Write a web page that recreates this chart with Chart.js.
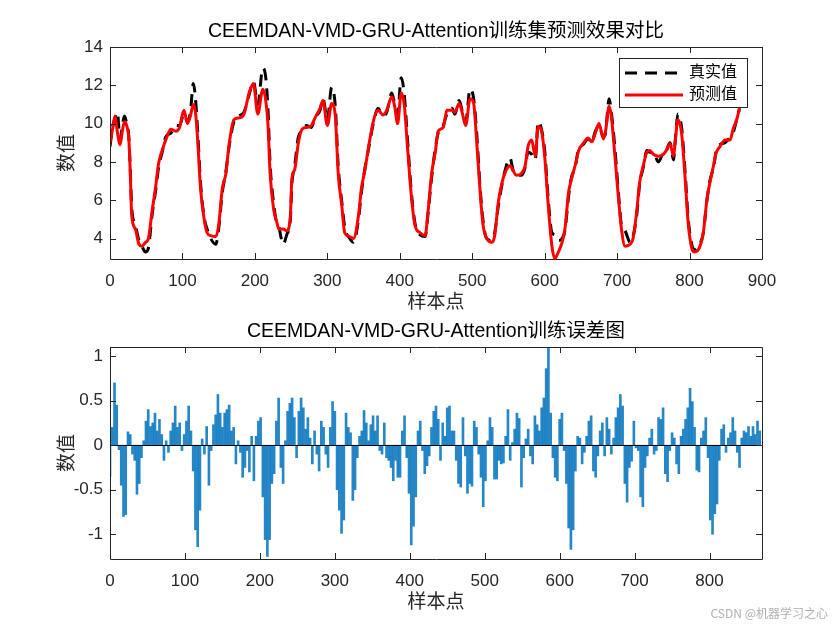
<!DOCTYPE html>
<html>
<head>
<meta charset="utf-8">
<script src="https://cdn.jsdelivr.net/npm/chart.js@4.4.1/dist/chart.umd.min.js"></script>
<style>
  body { margin: 0; background: #fff; }
  #wrap { position: relative; width: 840px; height: 630px; background: #fff; overflow: hidden; }
  canvas { position: absolute; left: 0; }
  #fitChart { top: 0; }
  #errChart { top: 300px; }
  #mark { position: absolute; right: 12px; top: 604px; font: 12px "Noto Sans CJK SC", sans-serif; color: #b0b0b0; }
</style>
</head>
<body>
<div id="wrap">
  <canvas id="fitChart" width="840" height="330"></canvas>
  <canvas id="errChart" width="840" height="330"></canvas>
  <div id="mark">CSDN @机器学习之心</div>
</div>
<script>
const FONT = '"Liberation Sans", Arial, "Noto Sans CJK SC", sans-serif';

// sample positions
const sampleX = [
  0, 4, 7, 10, 14, 17, 20, 23, 26, 28,
  30, 35, 40, 44, 49, 53, 58, 63, 67, 72,
  77, 84, 91, 96, 102, 107, 111, 115, 118, 121,
  125, 130, 134, 139, 146, 150, 155, 160, 164, 171,
  178, 185, 192, 198, 204, 211, 215, 218, 221, 226,
  230, 233, 239, 244, 249, 251, 255, 260, 265, 271,
  278, 283, 290, 294, 300, 306, 311, 315, 320, 324,
  331, 336, 343, 347, 352, 357, 364, 370, 377, 382,
  389, 393, 397, 402, 406, 411, 416, 421, 428, 435,
  439, 444, 449, 453, 460, 465, 472, 476, 482, 486,
  491, 497, 502, 506, 511, 515, 520, 527, 531, 536,
  541, 545, 552, 557, 561, 568, 573, 577, 582, 587,
  591, 595, 600, 605, 610, 614, 619, 624, 628, 633,
  637, 642, 647, 653, 660, 665, 669, 675, 681, 684,
  689, 692, 697, 702, 706, 711, 718, 722, 727, 731,
  736, 741, 745, 750, 757, 764, 768, 773, 778, 780,
  784, 789, 794, 798, 803, 807, 814, 819, 824, 828,
  833, 837, 842, 849, 856, 860, 865, 869
];

// 真实值 (black dashed)
const trueVals = [
  8.8, 9.9, 10.3, 10.6, 9.2, 9.9, 10.4, 10.0, 9.3, 7.6,
  5.6, 4.7, 3.9, 3.6, 3.3, 3.5, 5.2, 6.5, 7.7, 8.5,
  9.3, 9.5, 9.9, 9.9, 10.5, 10.1, 10.6, 12.1, 11.3, 9.6,
  6.9, 5.1, 4.5, 4.0, 3.7, 4.5, 6.4, 7.5, 8.7, 10.1,
  10.4, 10.6, 11.5, 12.2, 11.0, 12.9, 12.4, 10.8, 7.9, 5.8,
  4.8, 4.6, 3.7, 4.2, 5.0, 6.8, 7.8, 9.3, 9.6, 9.9,
  9.8, 10.3, 10.7, 11.3, 10.2, 11.9, 10.9, 7.8, 5.9, 4.6,
  4.0, 3.8, 5.0, 6.4, 7.7, 8.7, 10.1, 10.8, 10.4, 10.6,
  11.6, 11.0, 10.5, 12.4, 11.6, 9.0, 6.4, 4.8, 4.2, 4.1,
  5.3, 7.2, 8.7, 9.5, 9.9, 10.5, 10.8, 10.5, 11.2, 10.7,
  10.1, 11.8, 11.3, 9.6, 6.6, 4.9, 4.0, 3.9, 4.3, 5.7,
  6.8, 7.5, 8.2, 7.5, 7.3, 7.3, 7.7, 8.5, 8.4, 8.1,
  10.1, 9.8, 8.6, 6.0, 4.3, 4.2, 3.9, 4.0, 4.4, 6.2,
  7.2, 7.7, 8.7, 8.9, 9.2, 9.0, 9.5, 9.9, 9.3, 9.5,
  11.3, 10.6, 8.7, 6.3, 4.7, 4.4, 3.8, 4.1, 5.2, 6.8,
  7.7, 8.6, 8.5, 8.5, 8.0, 8.5, 8.6, 9.0, 8.1, 9.0,
  10.5, 9.8, 7.4, 5.1, 3.7, 3.4, 3.7, 4.3, 6.0, 7.0,
  7.7, 8.6, 8.9, 9.0, 9.3, 9.5, 10.2, 10.8
];

// 预测值 (red)
const predVals = [
  9.0, 9.8, 10.4, 9.6, 8.9, 9.6, 10.1, 9.9, 9.2, 7.4,
  5.2, 4.5, 3.7, 3.6, 3.8, 4.0, 5.4, 6.7, 7.9, 8.6,
  9.15, 9.7, 9.6, 9.8, 10.7, 10.0, 10.4, 11.0, 10.6, 9.15,
  6.6, 5.0, 4.3, 4.15, 4.1, 4.7, 6.6, 7.4, 8.8, 10.2,
  10.3, 10.5, 11.6, 12.1, 10.5, 11.8, 11.2, 10.0, 7.4, 5.5,
  4.9, 4.5, 4.5, 4.4, 5.2, 7.1, 7.6, 9.0, 9.7, 9.8,
  9.9, 10.3, 10.8, 11.2, 9.9, 11.05, 10.4, 7.4, 5.7, 4.3,
  4.1, 4.0, 5.2, 6.6, 7.6, 8.8, 10.2, 10.7, 10.45, 10.7,
  11.4, 10.9, 10.0, 11.6, 11.05, 8.6, 6.2, 4.7, 4.3, 4.15,
  5.4, 7.4, 8.5, 9.6, 9.8, 10.7, 10.7, 10.6, 11.05, 10.6,
  9.9, 11.3, 11.05, 9.15, 6.4, 4.7, 4.0, 3.8, 4.15, 5.9,
  6.9, 7.4, 7.8, 7.5, 7.3, 7.4, 7.8, 8.8, 9.15, 8.3,
  9.85, 9.7, 8.3, 5.7, 3.6, 2.95, 3.3, 3.8, 4.5, 6.4,
  7.1, 7.8, 8.6, 8.95, 9.25, 9.05, 9.4, 10.0, 9.2, 9.6,
  10.9, 10.4, 8.3, 6.05, 4.5, 3.6, 3.7, 4.0, 5.4, 6.9,
  7.8, 8.5, 8.6, 8.4, 8.3, 8.4, 8.6, 8.95, 8.3, 9.0,
  10.2, 9.5, 7.1, 4.85, 3.5, 3.3, 3.55, 4.3, 6.05, 6.9,
  7.8, 8.5, 8.8, 9.15, 9.15, 9.7, 10.2, 10.8
];

// training error, one value every errStep samples
const errStep = 3;
const errVals = [
  -0.35, 0.2, 0.7, 0.45, -0.05, -0.45, -0.8, -0.78, 0.15, 0.12,
  -0.1, -0.17, -0.55, -0.43, -0.14, 0.05, 0.27, 0.4, 0.21, 0.25,
  0.36, 0.16, 0.29, 0.12, -0.17, 0.05, -0.08, 0.16, 0.25, 0.44,
  0.2, 0.25, -0.06, 0.12, 0.27, 0.44, 0.16, -0.29, -0.95, -1.14,
  -0.73, 0.07, -0.1, 0.21, -0.45, -0.06, 0.23, 0.34, 0.57, 0.36,
  0.2, 0.36, 0.4, 0.45, 0.16, 0.2, -0.21, 0.05, -0.08, -0.36,
  -0.25, -0.06, -0.3, 0.1, -0.4, 0.1, 0.27, 0.31, -0.58, -1.06,
  -1.25, -1.06, -0.43, -0.32, 0.27, 0.53, -0.25, -0.43, 0.05, 0.38,
  0.47, 0.53, 0.31, -0.14, 0.38, 0.53, 0.42, 0.18, 0.31, 0.08,
  -0.21, 0.16, -0.1, -0.29, 0.27, 0.2, -0.1, -0.25, 0.2, 0.49,
  0.38, -0.5, -0.73, -0.99, -0.84, 0.36, 0.2, 0.14, -0.62, -0.5,
  -0.14, 0.1, 0.16, 0.39, 0.25, 0.05, 0.23, 0.33, 0.16, 0.33,
  -0.06, -0.1, 0.25, -0.14, -0.17, -0.25, -0.4, -0.17, -0.36, -0.36,
  0.16, 0.33, -0.14, -0.54, -1.12, -0.91, -0.58, 0.16, 0.27, -0.06,
  -0.32, -0.23, -0.12, 0.2, 0.38, 0.44, 0.29, -0.17, 0.25, 0.1,
  0.42, 0.44, 0.16, 0.16, -0.17, -0.43, -0.47, 0.31, -0.12, -0.54,
  -0.43, -0.46, 0.27, 0.2, -0.1, -0.36, -0.69, -0.4, 0.05, 0.31,
  0.2, -0.38, -0.38, -0.17, -0.21, -0.2, 0.1, 0.4, -0.17, 0.03,
  0.18, 0.36, 0.3, -0.47, -0.14, 0.07, 0.18, -0.12, -0.21, 0.33,
  0.23, 0.16, 0.42, 0.53, 0.86, 1.09, 0.36, -0.14, -0.36, -0.4,
  0.29, 0.36, -0.06, -0.43, -0.93, -1.17, -0.95, -0.29, 0.1, 0.08,
  -0.21, -0.08, 0.1, 0.27, 0.33, -0.29, -0.36, -0.12, 0.16, 0.25,
  -0.12, 0.31, 0.18, -0.1, 0.08, 0.31, 0.42, 0.57, 0.44, -0.43,
  -0.64, -0.25, -0.18, 0.27, -0.03, -0.06, -0.58, -0.69, -0.25, -0.12,
  0.08, 0.18, -0.1, -0.06, 0.31, 0.29, 0.42, -0.32, -0.41, -0.06,
  0.14, 0.08, -0.21, -0.32, 0.1, 0.18, 0.29, 0.42, 0.64, 0.49,
  0.2, -0.28, -0.3, 0.08, 0.16, 0.31, -0.14, -0.84, -1.0, -0.77,
  -0.66, -0.17, 0.18, 0.23, -0.08, 0.08, 0.14, 0.31, 0.16, -0.08,
  -0.25, 0.08, 0.16, 0.14, 0.21, 0.1, 0.21, 0.12, 0.27, 0.16
];

const xTicksFit = [0, 100, 200, 300, 400, 500, 600, 700, 800, 900];
const yTicksFit = [4, 6, 8, 10, 12, 14];
const xTicksErr = [0, 100, 200, 300, 400, 500, 600, 700, 800];
const yTicksErr = [-1, -0.5, 0, 0.5, 1];
const seriesNames = ["真实值", "预测值"];

const fixTicks = (values) => (scale) => {
  scale.ticks = values.map((v) => ({ value: v }));
};

// box round the axes with inward ticks on all four sides
const matlabAxes = {
  id: "matlabAxes",
  afterDraw(chart) {
    const { ctx, chartArea: a, scales } = chart;
    const len = 6;
    ctx.save();
    ctx.strokeStyle = "#262626";
    ctx.lineWidth = 1;
    ctx.beginPath();
    ctx.rect(Math.round(a.left) + 0.5, Math.round(a.top) + 0.5,
      Math.round(a.right - a.left), Math.round(a.bottom - a.top));
    scales.x.ticks.forEach((t) => {
      const px = Math.round(scales.x.getPixelForValue(t.value)) + 0.5;
      ctx.moveTo(px, a.bottom); ctx.lineTo(px, a.bottom - len);
      ctx.moveTo(px, a.top); ctx.lineTo(px, a.top + len);
    });
    scales.y.ticks.forEach((t) => {
      const py = Math.round(scales.y.getPixelForValue(t.value)) + 0.5;
      ctx.moveTo(a.left, py); ctx.lineTo(a.left + len, py);
      ctx.moveTo(a.right, py); ctx.lineTo(a.right - len, py);
    });
    ctx.stroke();
    ctx.restore();
  },
};

const fitLegend = {
  id: "fitLegend",
  afterDraw(chart) {
    const { ctx, chartArea: a } = chart;
    const w = 128, h = 49;
    const left = a.right - 15 - w, top = a.top + 11;
    ctx.save();
    ctx.fillStyle = "#fff";
    ctx.fillRect(left, top, w, h);
    ctx.strokeStyle = "#262626";
    ctx.lineWidth = 1;
    ctx.strokeRect(Math.round(left) + 0.5, Math.round(top) + 0.5, w, h);
    chart.data.datasets.forEach((ds, i) => {
      const y = top + 15 + i * 22;
      ctx.beginPath();
      ctx.strokeStyle = ds.borderColor;
      ctx.lineWidth = 3;
      ctx.setLineDash(ds.borderDash || []);
      ctx.moveTo(left + 6, y);
      ctx.lineTo(left + 64, y);
      ctx.stroke();
      ctx.setLineDash([]);
      ctx.fillStyle = "#000";
      ctx.font = "16px " + FONT;
      ctx.textBaseline = "middle";
      ctx.fillText(ds.label, left + 70, y);
    });
    ctx.restore();
  },
};

const zeroLine = {
  id: "zeroLine",
  afterDatasetsDraw(chart) {
    const { ctx, chartArea: a, scales } = chart;
    const py = Math.round(scales.y.getPixelForValue(0)) + 0.5;
    ctx.save();
    ctx.strokeStyle = "#000";
    ctx.lineWidth = 1;
    ctx.beginPath();
    ctx.moveTo(a.left, py);
    ctx.lineTo(a.right, py);
    ctx.stroke();
    ctx.restore();
  },
};

const axisOptions = (xTicks, xMax, yTicks, yMin, yMax) => ({
  x: {
    type: "linear",
    min: 0,
    max: xMax,
    offset: false,
    afterBuildTicks: fixTicks(xTicks),
    afterFit: (s) => { s.height = 71; },
    grid: { display: false, drawTicks: false, offset: false },
    border: { display: false },
    ticks: {
      padding: 12, color: "#262626", maxRotation: 0, autoSkip: false,
      font: { family: FONT, size: 17 }, callback: (v) => String(v),
    },
    title: {
      display: true, text: "样本点", color: "#262626",
      font: { family: FONT, size: 19 }, padding: { top: 0, bottom: 16 },
    },
  },
  y: {
    min: yMin,
    max: yMax,
    afterBuildTicks: fixTicks(yTicks),
    afterFit: (s) => { s.width = 110; },
    grid: { display: false, drawTicks: false },
    border: { display: false },
    ticks: {
      padding: 7, color: "#262626", autoSkip: false,
      font: { family: FONT, size: 17 }, callback: (v) => String(v),
    },
    title: {
      display: true, text: "数值", color: "#262626",
      font: { family: FONT, size: 19 }, padding: { top: 56, bottom: 0 },
    },
  },
});

const titleOptions = (text) => ({
  display: true,
  text: text,
  fullSize: false,
  color: "#000",
  font: { family: FONT, size: 19.5, weight: "normal" },
  padding: { top: 20, bottom: 3.6 },
});

new Chart(document.getElementById("fitChart"), {
  type: "line",
  data: {
    datasets: [
      {
        label: seriesNames[0],
        data: sampleX.map((x, i) => ({ x: x, y: trueVals[i] })),
        borderColor: "#000",
        borderWidth: 3,
        borderDash: [12, 8],
        pointRadius: 0,
        cubicInterpolationMode: "monotone",
        order: 2,
      },
      {
        label: seriesNames[1],
        data: sampleX.map((x, i) => ({ x: x, y: predVals[i] })),
        borderColor: "#ff0000",
        borderWidth: 3,
        pointRadius: 0,
        cubicInterpolationMode: "monotone",
        order: 1,
      },
    ],
  },
  options: {
    responsive: false,
    animation: false,
    devicePixelRatio: 1,
    layout: { padding: { left: 0, right: 78, top: 0, bottom: 0 } },
    plugins: {
      legend: { display: false },
      tooltip: { enabled: false },
      title: titleOptions("CEEMDAN-VMD-GRU-Attention训练集预测效果对比"),
    },
    scales: axisOptions(xTicksFit, 900, yTicksFit, 2.93, 14),
  },
  plugins: [matlabAxes, fitLegend],
});

new Chart(document.getElementById("errChart"), {
  type: "bar",
  data: {
    datasets: [
      {
        label: "误差",
        data: errVals.map((v, i) => ({ x: i * errStep, y: v })),
        backgroundColor: "rgba(0,114,189,0.85)",
        borderWidth: 0,
        barThickness: 2,
      },
    ],
  },
  options: {
    responsive: false,
    animation: false,
    devicePixelRatio: 1,
    layout: { padding: { left: 0, right: 78, top: 0, bottom: 0 } },
    plugins: {
      legend: { display: false },
      tooltip: { enabled: false },
      title: titleOptions("CEEMDAN-VMD-GRU-Attention训练误差图"),
    },
    scales: axisOptions(xTicksErr, 870, yTicksErr, -1.278, 1.103),
  },
  plugins: [zeroLine, matlabAxes],
});
</script>
</body>
</html>
